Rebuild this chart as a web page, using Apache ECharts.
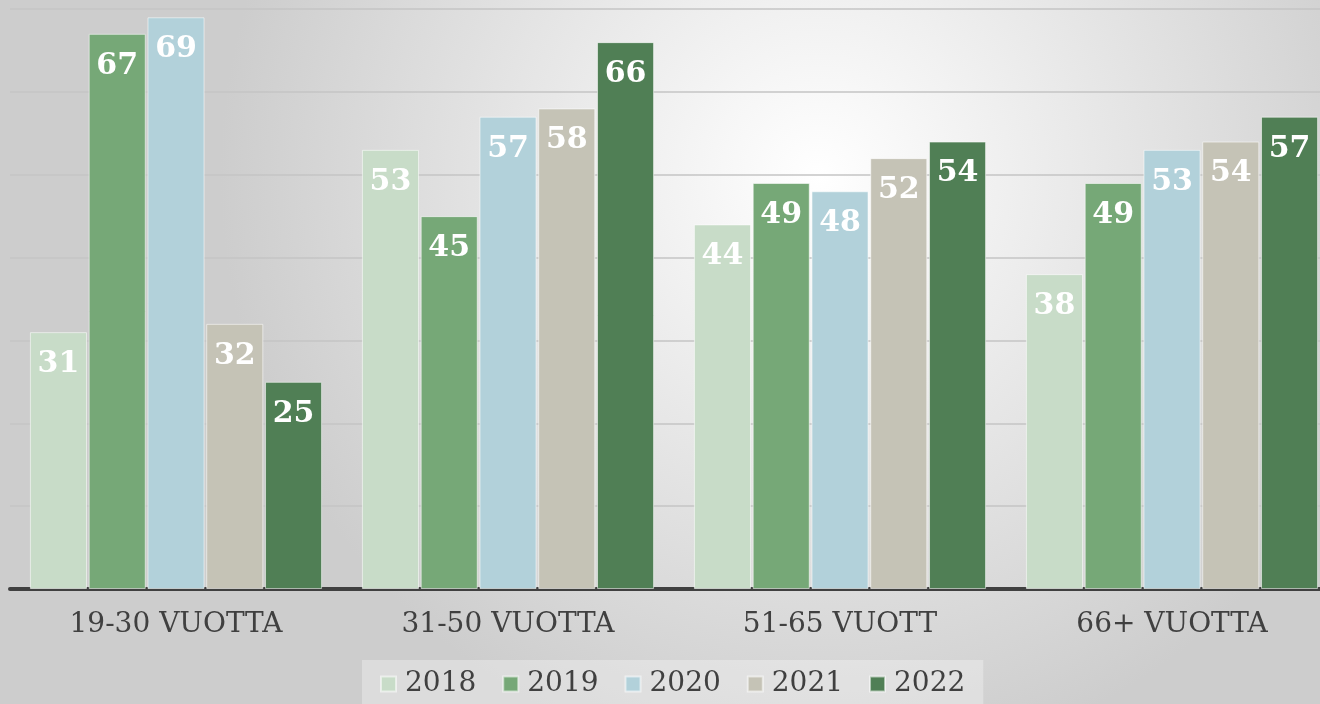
<!DOCTYPE html>
<html style="height: 100%">
<head>
    <meta charset="utf-8">
    <title>Ikäryhmät 2018-2022</title>
    <script src="https://cdn.jsdelivr.net/npm/echarts@6/dist/echarts.min.js"></script>
    <style>
        html, body { margin: 0; padding: 0; }
        #container { width: 1320px; height: 704px; }
    </style>
</head>
<body>
<div id="container"></div>
<script>
    // data
    var categories = ['19-30 VUOTTA', '31-50 VUOTTA', '51-65 VUOTT', '66+ VUOTTA'];
    var years = ['2018', '2019', '2020', '2021', '2022'];
    var v2018 = [31, 53, 44, 38];
    var v2019 = [67, 45, 49, 49];
    var v2020 = [69, 57, 48, 53];
    var v2021 = [32, 58, 52, 54];
    var v2022 = [25, 66, 54, 57];
    var colors = ['#c8dcc8', '#76a877', '#b2d1da', '#c5c3b6', '#507f55'];

    var serif = 'Georgia, "DejaVu Serif", serif';
    var allValues = [v2018, v2019, v2020, v2021, v2022];

    var series = [];
    for (var i = 0; i < years.length; i++) {
        series.push({
            name: years[i],
            type: 'bar',
            data: allValues[i],
            barGap: '3%',
            barCategoryGap: '12%',
            itemStyle: {
                color: colors[i],
                borderColor: 'rgba(255,255,255,0.55)',
                borderWidth: 1
            },
            label: {
                show: true,
                position: 'insideTop',
                distance: 17,
                color: '#ffffff',
                fontFamily: serif,
                fontWeight: 'bold',
                fontSize: 30
            }
        });
    }

    var myChart = echarts.init(document.getElementById('container'));
    var option = {
        backgroundColor: {
            type: 'radial',
            x: 0.62, y: 0.25, r: 0.85,
            colorStops: [
                {offset: 0, color: '#ffffff'},
                {offset: 1, color: '#cdcdcd'}
            ]
        },
        color: colors,
        animation: false,
        grid: {
            left: 10,
            right: -18,
            top: 9,
            bottom: 115,
            outerBoundsMode: 'none'
        },
        legend: {
            data: years,
            left: 362,
            bottom: -6,
            icon: 'rect',
            itemWidth: 15,
            itemHeight: 15,
            itemGap: 26,
            padding: [10, 18, 12, 18],
            backgroundColor: 'rgba(255,255,255,0.3)',
            textStyle: {
                fontFamily: serif,
                fontSize: 28,
                color: '#404040',
                padding: [0, 0, 0, 4]
            }
        },
        xAxis: {
            type: 'category',
            data: categories,
            axisTick: {show: false},
            axisLine: {lineStyle: {color: '#404040', width: 4}},
            axisLabel: {
                margin: 22,
                fontFamily: serif,
                fontSize: 28,
                color: '#404040'
            }
        },
        yAxis: {
            type: 'value',
            min: 0,
            max: 70,
            interval: 10,
            axisLabel: {show: false},
            axisLine: {show: false},
            axisTick: {show: false},
            splitLine: {lineStyle: {color: '#c4c4c4', width: 1.5}}
        },
        series: series
    };
    myChart.setOption(option);
</script>
</body>
</html>
